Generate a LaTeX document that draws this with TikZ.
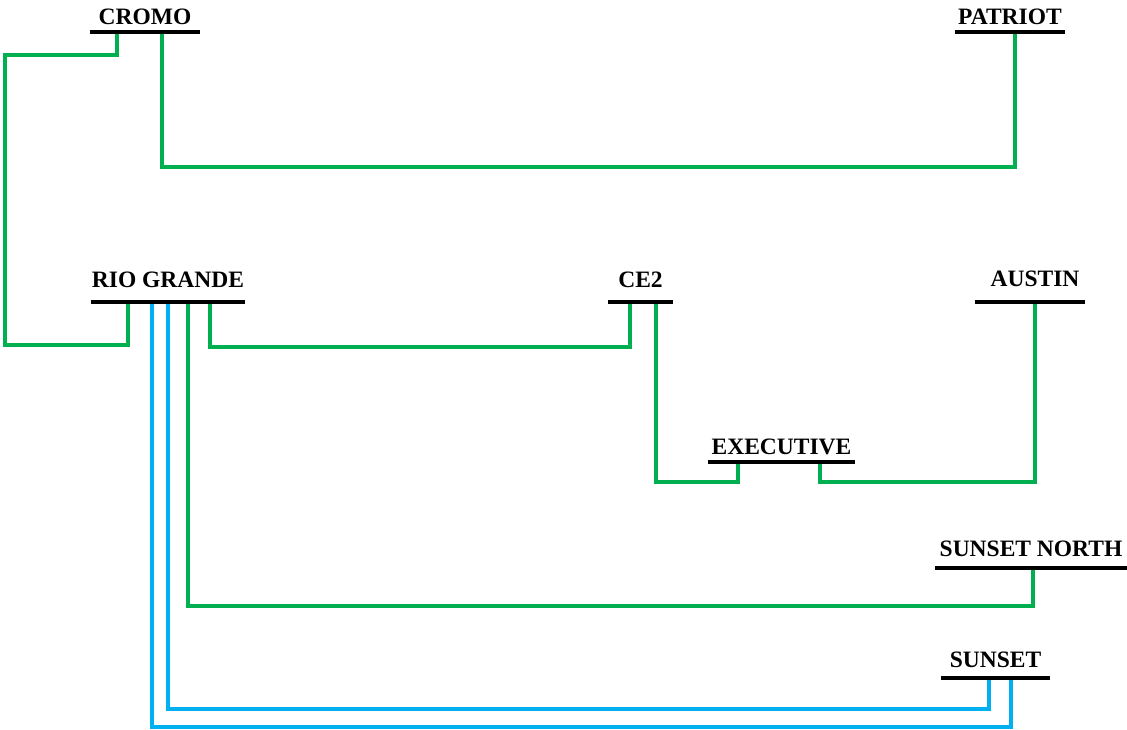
\documentclass[tikz,border=0pt]{standalone}
\usepackage{fontspec}
\setmainfont{Liberation Serif}
\usepackage{xcolor}
\usepackage{tikz}
\usetikzlibrary{backgrounds}

\definecolor{linegreen}{RGB}{0,176,80}
\definecolor{lineblue}{RGB}{0,176,240}

\begin{document}
\begin{tikzpicture}[
    x=1pt, y=-1pt,
    station/.style={font=\bfseries\fontsize{23.5pt}{28pt}\selectfont, inner sep=0pt, anchor=south, text height=17pt, text depth=7pt},
    bar/.style={draw=black, line width=3.8pt},
    feedg/.style={draw=linegreen, line width=3.4pt},
    feedb/.style={draw=lineblue, line width=3.4pt}
]
\useasboundingbox (0,0) rectangle (1127,730);

\node[station, minimum width=110pt] (cromo) at (145,32) {CROMO};
\node[station, minimum width=110pt] (patriot) at (1010,32) {PATRIOT};
\node[station, minimum width=154pt, text depth=14pt] (rio) at (168,302) {RIO GRANDE};
\node[station, minimum width=65pt, text depth=14pt] (ce2) at (640.5,302) {CE2};
\node[station, minimum width=110pt, text depth=15pt] (austin) at (1030,302) {\hspace*{10pt}AUSTIN};
\node[station, minimum width=147pt] (exec) at (781.5,462) {EXECUTIVE};
\node[station, minimum width=191pt, text depth=11pt] (snorth) at (1031,568) {SUNSET NORTH};
\node[station, minimum width=109pt, text depth=10pt] (sunset) at (995.5,678) {SUNSET};

\draw[bar] (cromo.south west) -- (cromo.south east);
\draw[bar] (patriot.south west) -- (patriot.south east);
\draw[bar] (rio.south west) -- (rio.south east);
\draw[bar] (ce2.south west) -- (ce2.south east);
\draw[bar] (austin.south west) -- (austin.south east);
\draw[bar] (exec.south west) -- (exec.south east);
\draw[bar] (snorth.south west) -- (snorth.south east);
\draw[bar] (sunset.south west) -- (sunset.south east);

\begin{scope}[on background layer]
% green feeds
\draw[feedg] ([xshift=-28pt]cromo.south) -- ++(0,23) -- ++(-112,0) -- ++(0,290) -| ([xshift=-40pt]rio.south);
\draw[feedg] ([xshift=17pt]cromo.south) -- ++(0,135) -| ([xshift=5pt]patriot.south);
\draw[feedg] ([xshift=42pt]rio.south) -- ++(0,45) -| ([xshift=-10.5pt]ce2.south);
\draw[feedg] ([xshift=15.5pt]ce2.south) -- ++(0,180) -| ([xshift=-43.5pt]exec.south);
\draw[feedg] ([xshift=38.5pt]exec.south) -- ++(0,20) -| ([xshift=5pt]austin.south);
\draw[feedg] ([xshift=20pt]rio.south) -- ++(0,304) -| ([xshift=2pt]snorth.south);
% blue feeds
\draw[feedb] (rio.south) -- ++(0,407) -| ([xshift=-6.5pt]sunset.south);
\draw[feedb] ([xshift=-16pt]rio.south) -- ++(0,425) -| ([xshift=15.5pt]sunset.south);
\end{scope}

\end{tikzpicture}
\end{document}
